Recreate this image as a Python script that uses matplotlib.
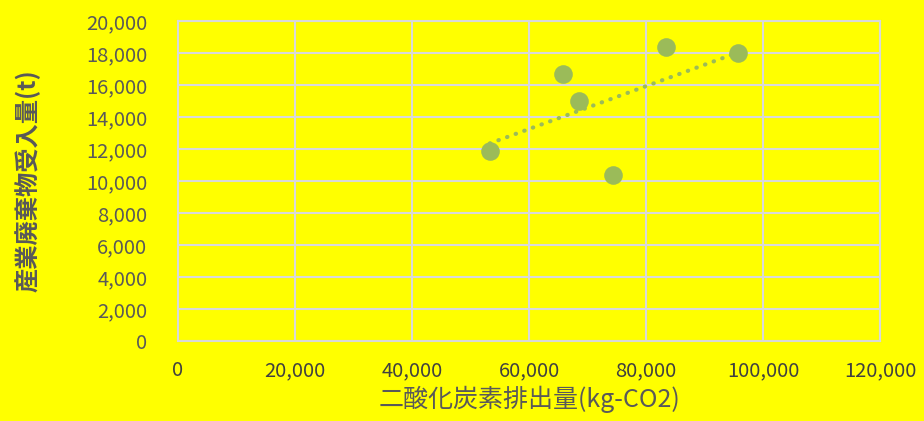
import matplotlib.pyplot as plt
from matplotlib.ticker import FuncFormatter, MultipleLocator
import numpy as np

plt.rcParams['font.family'] = ['Noto Sans CJK JP', 'DejaVu Sans']

# data
co2 = [53300, 65800, 68500, 74400, 83400, 95700]
waste = [11900, 16700, 15000, 10400, 18350, 18000]

x_label = '二酸化炭素排出量(kg-CO2)'
y_label = '産業廃棄物受入量(t)'

bg = '#FFFF00'
grid_c = '#D9D9D9'
txt = '#595959'
pt_c = '#9BBB59'

fig = plt.figure(figsize=(9.24, 4.21), dpi=100, facecolor=bg)
ax = fig.add_axes([178 / 924, 1 - 341 / 421, 702 / 924, 320 / 421])
ax.set_facecolor(bg)

ax.scatter(co2, waste, s=180, color=pt_c, zorder=3, linewidths=0)

# linear trend line
k, b = np.polyfit(co2, waste, 1)
xt = np.array([min(co2), max(co2)])
ax.plot(xt, k * xt + b, color=pt_c, lw=3, linestyle=(0, (0.1, 2.1)),
        dash_capstyle='round', zorder=2)

ax.set_xlim(0, 120000)
ax.set_ylim(0, 20000)
ax.xaxis.set_major_locator(MultipleLocator(20000))
ax.yaxis.set_major_locator(MultipleLocator(2000))
fmt = FuncFormatter(lambda v, p: f'{int(v):,}')
ax.xaxis.set_major_formatter(fmt)
ax.yaxis.set_major_formatter(fmt)

ax.grid(True, color=grid_c, lw=1.5)
ax.set_axisbelow(True)
for s in ax.spines.values():
    s.set_color(grid_c)
    s.set_linewidth(1.5)

ax.tick_params(axis='both', length=0, labelsize=14.5)
ax.tick_params(axis='x', pad=14, labelcolor='#404040')
ax.tick_params(axis='y', pad=22, labelcolor=txt)

ax.set_xlabel(x_label, fontsize=18, color=txt, labelpad=3)
ax.set_ylabel(y_label, fontsize=17.5, color=txt, fontweight='bold', labelpad=33)

fig.savefig('out.png', dpi=100, facecolor=bg)
